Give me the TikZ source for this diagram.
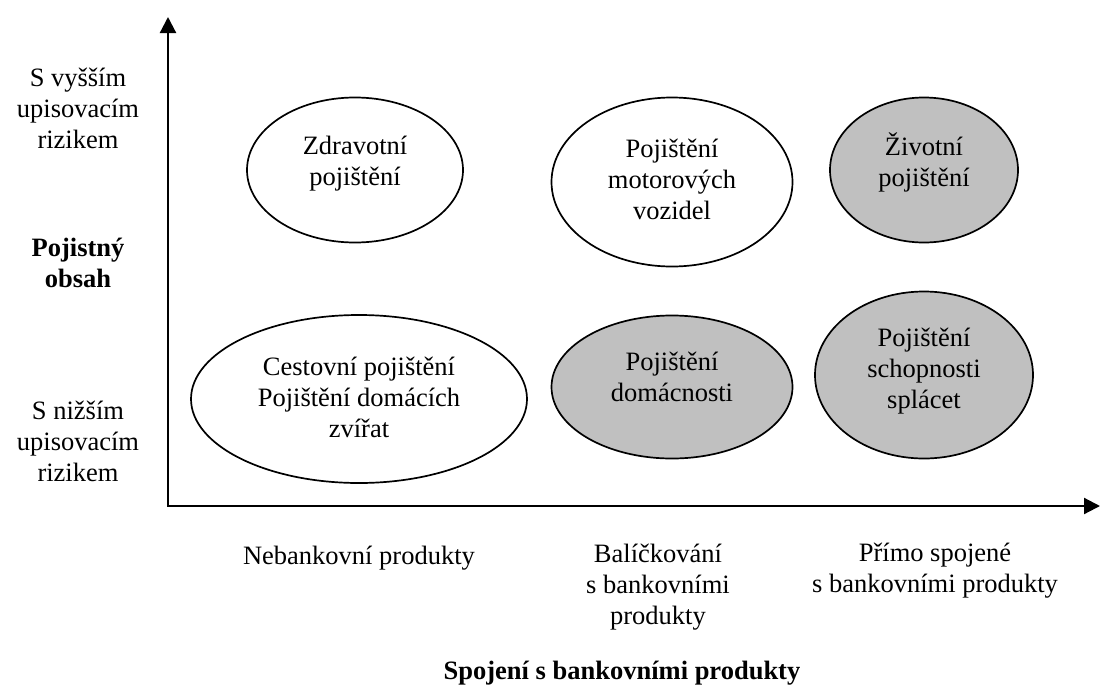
\documentclass[tikz,border=0pt]{standalone}
\usepackage{fontspec}
\setmainfont{Liberation Serif}
\usetikzlibrary{shapes.geometric,arrows.meta}
\definecolor{ovalgray}{HTML}{C0C0C0}
\tikzset{
  oval/.style={ellipse, draw=black, line width=1.7pt, inner sep=0pt},
  grayoval/.style={oval, fill=ovalgray},
  whiteoval/.style={oval, fill=white},
  lbl/.style={align=center, inner sep=0pt, font=\fontsize{26.5}{31}\selectfont},
  boldlbl/.style={align=center, inner sep=0pt, font=\fontsize{26.5}{31}\selectfont\bfseries},
  axisline/.style={line width=2.2pt, line cap=rect, -{Triangle[length=16pt,width=16pt]}},
}
\begin{document}
\begin{tikzpicture}[x=1pt,y=-1pt]
\useasboundingbox (0,0) rectangle (1101,691);
% axes
\coordinate (O) at (168,506);
\coordinate (ytip) at (168,17);
\coordinate (xtip) at (1100,506);
\draw[axisline] (O) -- (ytip);
\draw[axisline] (O) -- (xtip);
% ellipses
\node[whiteoval, minimum width=216pt, minimum height=145pt] (zdr) at (355,170) {};
\node[whiteoval, minimum width=241pt, minimum height=169pt] (mot) at (672,182) {};
\node[grayoval,  minimum width=188pt, minimum height=145pt] (ziv) at (924,170) {};
\node[whiteoval, minimum width=336pt, minimum height=168pt] (ces) at (359,399) {};
\node[grayoval,  minimum width=241pt, minimum height=143pt] (dom) at (672,387) {};
\node[grayoval,  minimum width=218pt, minimum height=167pt] (sch) at (924,375) {};
% ellipse texts
\node[lbl] (tzdr) at ([yshift=6pt]zdr.center) {Zdravotní\\pojištění};
\node[lbl] (tmot) at ([yshift=3pt]mot.center) {Pojištění\\motorových\\vozidel};
\node[lbl] (tziv) at ([yshift=8pt]ziv.center) {Životní\\pojištění};
\node[lbl] (tces) at ([yshift=2pt]ces.center) {Cestovní pojištění\\Pojištění domácích\\zvířat};
\node[lbl] (tdom) at ([yshift=10pt]dom.center) {Pojištění\\domácnosti};
\node[lbl] (tsch) at ([yshift=4pt]sch.center) {Pojištění\\schopnosti\\splácet};
% y-axis labels
\node[lbl] (yhigh) at (78,108) {S vyšším\\upisovacím\\rizikem};
\node[boldlbl] (ytitle) at (78,263) {Pojistný\\obsah};
\node[lbl] (ylow) at (78,441) {S nižším\\upisovacím\\rizikem};
% x-axis labels
\node[lbl] (xnon) at (359,558) {Nebankovní produkty};
\node[lbl] (xbal) at (658,587) {Balíčkování\\s bankovními\\produkty};
\node[lbl] (xdir) at (935,571) {Přímo spojené\\s bankovními produkty};
\node[boldlbl] (xtitle) at (622,673) {Spojení s bankovními produkty};
\end{tikzpicture}
\end{document}
